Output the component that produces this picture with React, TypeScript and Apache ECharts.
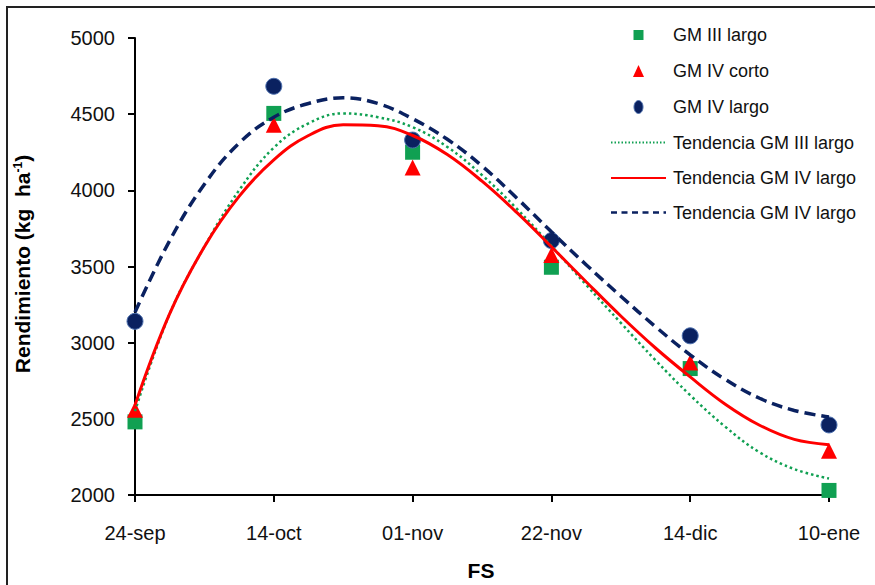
import React, { useEffect, useRef } from "react";
import * as echarts from "echarts";

const categories = ["24-sep", "14-oct", "01-nov", "22-nov", "14-dic", "10-ene"];
const categoryPos = [1, 2, 3, 4, 5, 6];

const gm3Largo = [2480, 4505, 4250, 3495, 2830, 2030];
const gm4Corto = [2560, 4430, 4150, 3575, 2870, 2290];
const gm4Largo = [3140, 4683, 4330, 3670, 3045, 2460];

const trendX = [1, 1.25, 1.5, 1.75, 2, 2.25, 2.5, 2.75, 3, 3.25, 3.5, 3.75, 4, 4.25, 4.5, 4.75, 5, 5.25, 5.5, 5.75, 6];
const trendGm3Largo = [2550, 3190, 3630, 4000, 4280, 4440, 4505, 4480, 4415, 4285, 4100, 3880, 3635, 3380, 3130, 2885, 2655, 2450, 2280, 2170, 2108];
const trendGm4Corto = [2590, 3190, 3630, 3960, 4200, 4360, 4430, 4424, 4360, 4235, 4060, 3855, 3630, 3400, 3175, 2965, 2775, 2598, 2458, 2365, 2330];
const trendGm4Largo = [3200, 3670, 4040, 4310, 4480, 4570, 4608, 4570, 4470, 4335, 4160, 3950, 3728, 3512, 3305, 3105, 2920, 2760, 2635, 2555, 2512];

const yTicks = { min: 2000, max: 5000, interval: 500 };

const legendLabels = [
  "GM III largo",
  "GM IV corto",
  "GM IV largo",
  "Tendencia GM III largo",
  "Tendencia GM IV largo",
  "Tendencia GM IV largo",
];

const GREEN = "#10A052";
const RED = "#FF0000";
const NAVY = "#0A2160";
const NAVY_EDGE = "#4C6FAE";

const pair = (xs: number[], ys: number[]) => xs.map((x, i) => [x, ys[i]]);

export default function App() {
  const ref = useRef<HTMLDivElement>(null);
  useEffect(() => {
    if (!ref.current) return;
    const chart = echarts.init(ref.current, null, { renderer: "svg" });
    const font = "'Liberation Sans', Arial, sans-serif";

    const legendYs = [35, 71, 107, 142.5, 178, 212.5];
    const lx0 = 611;
    const lx1 = 666;
    const lcx = 638.5;
    const legendGraphics: any[] = [
      { type: "rect", shape: { x: lcx - 5, y: legendYs[0] - 5, width: 10, height: 10 }, style: { fill: GREEN }, silent: true },
      {
        type: "polygon",
        shape: { points: [[lcx, legendYs[1] - 6], [lcx - 5.5, legendYs[1] + 6], [lcx + 5.5, legendYs[1] + 6]] },
        style: { fill: RED },
        silent: true,
      },
      {
        type: "ellipse",
        shape: { cx: lcx, cy: legendYs[2], rx: 4.5, ry: 6.5 },
        style: { fill: NAVY, stroke: NAVY_EDGE, lineWidth: 1 },
        silent: true,
      },
      {
        type: "line",
        shape: { x1: lx0, y1: legendYs[3], x2: lx1, y2: legendYs[3] },
        style: { stroke: GREEN, lineWidth: 2, lineDash: [1.5, 2] },
        silent: true,
      },
      {
        type: "line",
        shape: { x1: lx0, y1: legendYs[4], x2: lx1, y2: legendYs[4] },
        style: { stroke: RED, lineWidth: 2 },
        silent: true,
      },
      {
        type: "line",
        shape: { x1: lx0, y1: legendYs[5], x2: lx1, y2: legendYs[5] },
        style: { stroke: NAVY, lineWidth: 2.5, lineDash: [6, 4.5] },
        silent: true,
      },
      ...legendLabels.map((t, i) => ({
        type: "text",
        x: 673,
        y: legendYs[i],
        style: { text: t, fontSize: 18, fontFamily: font, fill: "#111", verticalAlign: "middle", align: "left" },
        silent: true,
      })),
    ];

    chart.setOption({
      animation: false,
      backgroundColor: "#ffffff",
      textStyle: { fontFamily: font },
      grid: { left: 135, right: 46, top: 38, bottom: 90, containLabel: false },
      xAxis: {
        type: "value",
        min: 1,
        max: 6,
        interval: 1,
        axisLine: { show: true, lineStyle: { color: "#000", width: 2 } },
        axisTick: { show: true, length: 7, lineStyle: { color: "#000", width: 2 } },
        splitLine: { show: false },
        axisLabel: {
          fontSize: 20,
          color: "#111",
          margin: 28,
          fontFamily: font,
          formatter: (v: number) => {
            const i = categoryPos.indexOf(v);
            return i >= 0 ? categories[i] : "";
          },
        },
      },
      yAxis: {
        type: "value",
        min: yTicks.min,
        max: yTicks.max,
        interval: yTicks.interval,
        axisLine: { show: true, lineStyle: { color: "#000", width: 2 } },
        axisTick: { show: true, length: 7, lineStyle: { color: "#000", width: 2 } },
        splitLine: { show: false },
        axisLabel: { fontSize: 20, color: "#111", margin: 20, fontFamily: font, formatter: (v: number) => String(v) },
      },
      graphic: [
        {
          type: "rect",
          shape: { x: 7, y: 7, width: 1000, height: 1000 },
          style: { fill: "none", stroke: "#222", lineWidth: 2 },
          silent: true,
        },
        {
          type: "text",
          x: 22,
          y: 264,
          rotation: Math.PI / 2,
          style: {
            text: "{a|Rendimiento (kg  ha}{s|-1}{a|)}",
            align: "center",
            verticalAlign: "middle",
            fill: "#000",
            rich: {
              a: { fontSize: 21, fontWeight: "bold", fontFamily: font, fill: "#000" },
              s: { fontSize: 12, fontWeight: "bold", fontFamily: font, fill: "#000", verticalAlign: "top", padding: [0, 0, 9, 0] },
            },
          },
        },
        {
          type: "text",
          x: 481,
          y: 570,
          style: {
            text: "FS",
            align: "center",
            verticalAlign: "middle",
            fontSize: 21,
            fontWeight: "bold",
            fontFamily: font,
            fill: "#000",
          },
        },
        ...legendGraphics,
      ],
      series: [
        {
          name: "GM III largo",
          type: "scatter",
          symbol: "rect",
          symbolSize: 15,
          itemStyle: { color: GREEN, opacity: 1 },
          data: pair(categoryPos, gm3Largo),
        },
        {
          name: "GM IV corto",
          type: "scatter",
          symbol: "triangle",
          symbolSize: 16,
          itemStyle: { color: RED, opacity: 1 },
          data: pair(categoryPos, gm4Corto),
        },
        {
          name: "GM IV largo",
          type: "scatter",
          symbol: "circle",
          symbolSize: 16,
          itemStyle: { color: NAVY, borderColor: NAVY_EDGE, borderWidth: 1, opacity: 1 },
          data: pair(categoryPos, gm4Largo),
        },
        {
          name: "Tendencia GM III largo",
          type: "line",
          smooth: 0.4,
          showSymbol: false,
          symbol: "none",
          lineStyle: { color: GREEN, width: 2.5, type: [2.5, 3] },
          itemStyle: { color: GREEN },
          data: pair(trendX, trendGm3Largo),
        },
        {
          name: "Tendencia GM IV largo",
          type: "line",
          smooth: 0.4,
          showSymbol: false,
          symbol: "none",
          lineStyle: { color: RED, width: 3 },
          itemStyle: { color: RED },
          data: pair(trendX, trendGm4Corto),
        },
        {
          name: "Tendencia GM IV largo ",
          type: "line",
          smooth: 0.4,
          showSymbol: false,
          symbol: "none",
          lineStyle: { color: NAVY, width: 3.5, type: [11, 6] },
          itemStyle: { color: NAVY },
          data: pair(trendX, trendGm4Largo),
        },
      ],
    });
    return () => chart.dispose();
  }, []);
  return <div ref={ref} style={{ width: 875, height: 585, position: "absolute", left: 0, top: 0 }} />;
}
